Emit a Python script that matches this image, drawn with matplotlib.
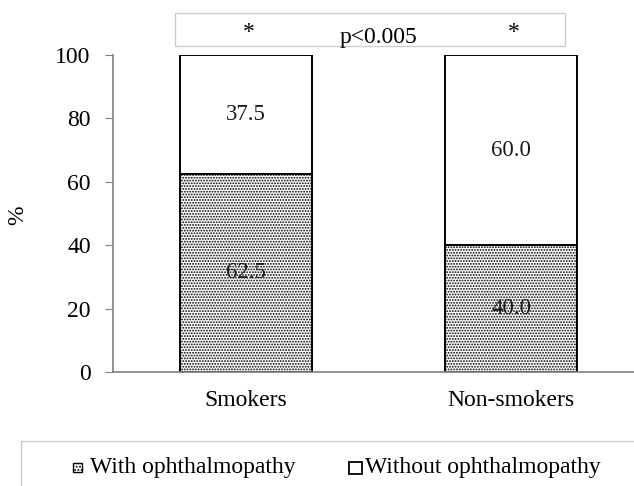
import matplotlib
matplotlib.use("Agg")
import matplotlib.pyplot as plt
from matplotlib.patches import Rectangle

plt.rcParams['font.family'] = ['Liberation Serif', 'DejaVu Serif']
plt.rcParams['hatch.color'] = '#8a8a8a'
plt.rcParams['hatch.linewidth'] = 0.9

categories = ["Smokers", "Non-smokers"]
with_oph = [62.5, 40.0]
without_oph = [37.5, 60.0]
yticks = [0, 20, 40, 60, 80, 100]
legend_labels = ['With ophthalmopathy', 'Without ophthalmopathy']

W, H = 634, 486
fig = plt.figure(figsize=(W/100, H/100), dpi=100)
ax = fig.add_axes([113/W, 1-372/H, 1-113/W, (372-55)/H])

x = list(range(len(categories)))
b1 = ax.bar(x, with_oph, width=0.5, color='white', edgecolor='black',
            linewidth=1.4, hatch='......')
b2 = ax.bar(x, without_oph, bottom=with_oph, width=0.5, color='white',
            edgecolor='black', linewidth=1.4)

for i in x:
    ax.text(i, with_oph[i]/2, f"{with_oph[i]:.1f}", ha='center', va='center',
            fontsize=16.5, color='#1a1a1a')
    ax.text(i, with_oph[i] + without_oph[i]/2, f"{without_oph[i]:.1f}",
            ha='center', va='center', fontsize=16.5, color='#1a1a1a')

ax.set_xlim(-0.502, 1.464)
ax.set_ylim(0, 100)
ax.set_yticks(yticks)
ax.set_xticks(x)
ax.set_xticklabels(categories)
ax.tick_params(axis='y', direction='out', length=6, color='#808080',
               labelsize=17, pad=10)
ax.tick_params(axis='x', length=0, labelsize=17, pad=13)
for s in ['top', 'right']:
    ax.spines[s].set_visible(False)
for s in ['left', 'bottom']:
    ax.spines[s].set_color('#808080')
    ax.spines[s].set_linewidth(1.2)
fig.text(18/W, 1-215/H, '%', rotation=90, ha='center', va='center', fontsize=17)

# significance box
fig.patches.append(Rectangle((175/W, 1-46/H), (565-175)/W, 33/H,
                             transform=fig.transFigure, facecolor='white',
                             edgecolor='#cccccc', linewidth=1.0, zorder=0))
fig.text(249/W, 1-33/H, '*', ha='center', va='center', fontsize=17)
fig.text(514/W, 1-33/H, '*', ha='center', va='center', fontsize=17)
fig.text(378/W, 1-37/H, 'p<0.005', ha='center', va='center', fontsize=17)

# legend box
fig.patches.append(Rectangle((21/W, -0.05), 1.0, 0.05 + (486-441)/H,
                             transform=fig.transFigure, facecolor='white',
                             edgecolor='#cccccc', linewidth=1.0, zorder=0))
# legend keys
fig.patches.append(Rectangle((73/W, 1-472/H), 9/W, 9/H, transform=fig.transFigure,
                             facecolor='white', edgecolor='black', hatch='.....',
                             linewidth=1.0))
fig.patches.append(Rectangle((349/W, 1-474/H), 13/W, 12/H, transform=fig.transFigure,
                             facecolor='white', edgecolor='black', linewidth=1.3))
fig.text(90/W, 1-467/H, legend_labels[0], ha='left', va='center', fontsize=17)
fig.text(365/W, 1-467/H, legend_labels[1], ha='left', va='center', fontsize=17)

fig.savefig('out.png', dpi=100)
